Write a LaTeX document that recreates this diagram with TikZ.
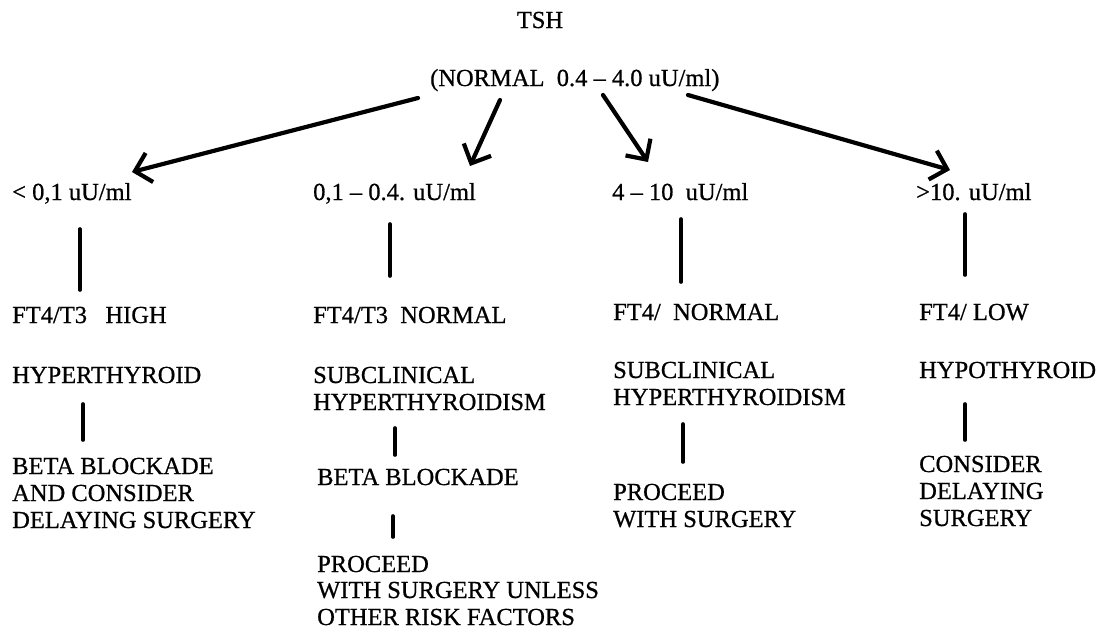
\documentclass[tikz,border=0pt]{standalone}
\usepackage{fontspec}
\setmainfont{Liberation Serif}[FakeBold=0.7]
\usetikzlibrary{arrows.meta}
\begin{document}
\begin{tikzpicture}[x=1pt,y=-1pt,
  txt/.style={anchor=base west,inner sep=0pt,font=\fontsize{24.5}{27}\selectfont},
  ctxt/.style={anchor=base,inner sep=0pt,font=\fontsize{24.5}{27}\selectfont},
  vline/.style={line width=3.6pt,line cap=round},
  arr/.style={line width=4.2pt,line cap=round,-{Straight Barb[length=15pt,width=30pt,line width=4.2pt]}}]
\useasboundingbox (0,0) rectangle (1101,633);
% top
\node[ctxt] (tsh) at (540,28) {TSH};
\node[txt] (norm) at (430,86) {(NORMAL\ \ 0.4 -- 4.0 uU/ml)};
% level 2
\node[txt] (r1) at (12,200) {< 0,1 uU/ml};
\node[txt] (r2) at (313,200) {0,1 -- 0.4. uU/ml};
\node[txt] (r3) at (612,200) {4 -- 10\ \ uU/ml};
\node[txt] (r4) at (916,200) {>10. uU/ml};
% arrows
\coordinate (a1s) at (418,98);  \coordinate (a1e) at (132,172);
\coordinate (a2s) at (500,100); \coordinate (a2e) at (470,166);
\coordinate (a3s) at (603,95);  \coordinate (a3e) at (648,162);
\coordinate (a4s) at (688,95);  \coordinate (a4e) at (950,170);
\draw[arr] (a1s) -- (a1e);
\draw[arr] (a2s) -- (a2e);
\draw[arr] (a3s) -- (a3e);
\draw[arr] (a4s) -- (a4e);
% column 1
\node[txt] (f1) at (12,323) {FT4/T3\ \ \ HIGH};
\node[txt] (d1) at (12,383) {HYPERTHYROID};
\node[txt] (m1a) at (12,474) {BETA BLOCKADE};
\node[txt] (m1b) at (12,501) {AND CONSIDER};
\node[txt] (m1c) at (12,528) {DELAYING SURGERY};
% column 2
\node[txt] (f2) at (313,323) {FT4/T3\ \ NORMAL};
\node[txt] (d2a) at (313,383) {SUBCLINICAL};
\node[txt] (d2b) at (313,410) {HYPERTHYROIDISM};
\node[txt] (m2) at (317,485) {BETA BLOCKADE};
\node[txt] (p2a) at (317,572) {PROCEED};
\node[txt] (p2b) at (317,598) {WITH SURGERY UNLESS};
\node[txt] (p2c) at (317,625) {OTHER RISK FACTORS};
% column 3
\node[txt] (f3) at (613,320) {FT4/\ \ NORMAL};
\node[txt] (d3a) at (613,378) {SUBCLINICAL};
\node[txt] (d3b) at (613,405) {HYPERTHYROIDISM};
\node[txt] (p3a) at (613,500) {PROCEED};
\node[txt] (p3b) at (613,527) {WITH SURGERY};
% column 4
\node[txt] (f4) at (919,320) {FT4/ LOW};
\node[txt] (d4) at (919,378) {HYPOTHYROID};
\node[txt] (c4a) at (919,472) {CONSIDER};
\node[txt] (c4b) at (919,499) {DELAYING};
\node[txt] (c4c) at (919,526) {SURGERY};
% vertical connectors
\coordinate (v1a) at (80,229);  \coordinate (v1b) at (80,290);
\coordinate (v1c) at (83,404);  \coordinate (v1d) at (83,440);
\coordinate (v2a) at (390,224); \coordinate (v2b) at (390,276);
\coordinate (v2c) at (395,428); \coordinate (v2d) at (395,455);
\coordinate (v2e) at (393,516); \coordinate (v2f) at (393,537);
\coordinate (v3a) at (681,219); \coordinate (v3b) at (681,282);
\coordinate (v3c) at (683,424); \coordinate (v3d) at (683,462);
\coordinate (v4a) at (965,214); \coordinate (v4b) at (965,275);
\coordinate (v4c) at (965,404); \coordinate (v4d) at (965,440);
\draw[vline] (v1a) -- (v1b);
\draw[vline] (v1c) -- (v1d);
\draw[vline] (v2a) -- (v2b);
\draw[vline] (v2c) -- (v2d);
\draw[vline] (v2e) -- (v2f);
\draw[vline] (v3a) -- (v3b);
\draw[vline] (v3c) -- (v3d);
\draw[vline] (v4a) -- (v4b);
\draw[vline] (v4c) -- (v4d);
\end{tikzpicture}
\end{document}
